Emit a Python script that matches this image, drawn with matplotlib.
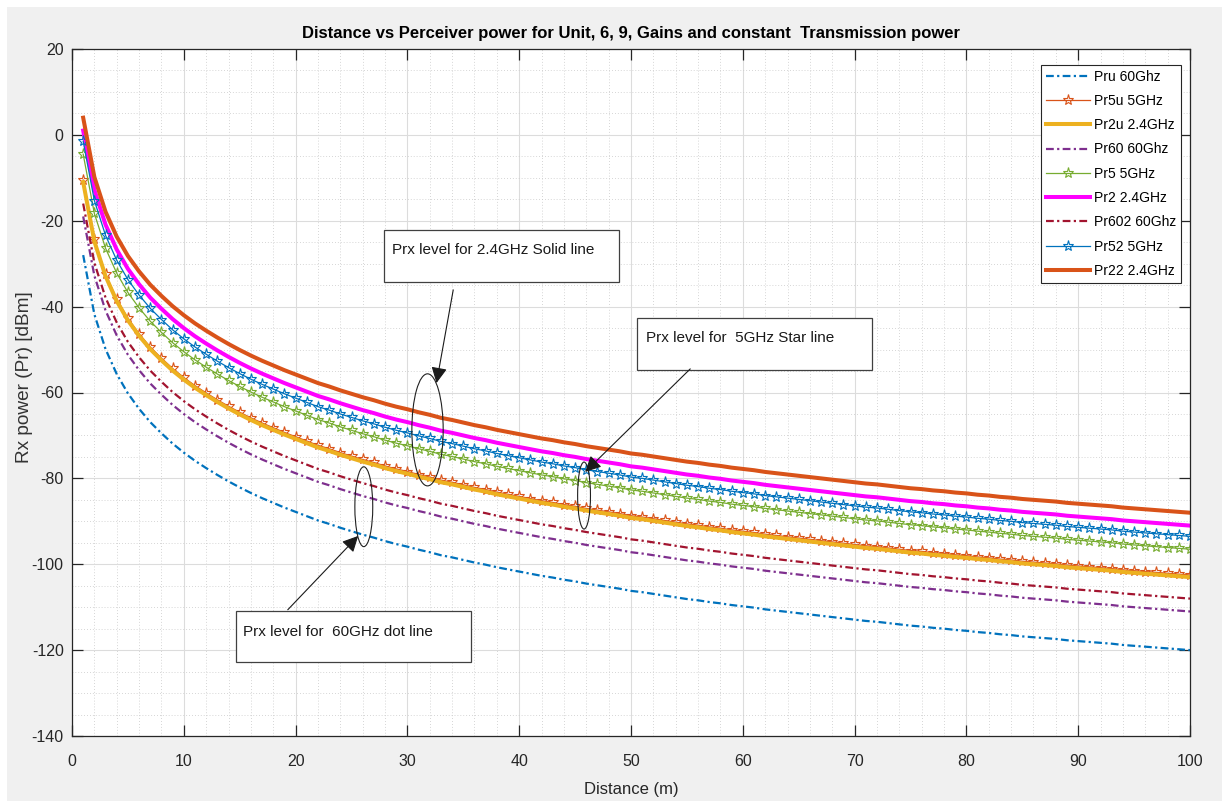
import numpy as np
import matplotlib
matplotlib.use('Agg')
import matplotlib.pyplot as plt
from matplotlib.patches import Ellipse, Rectangle
from matplotlib.ticker import MultipleLocator

plt.rcParams['font.family'] = ['Liberation Sans', 'DejaVu Sans']
plt.rcParams['axes.unicode_minus'] = False

# distance from transmitter (m)
distance = np.arange(1, 101)

# received level drop relative to the 1 m value (dB), one per metre
drop_db = [
    0.0, 13.8, 21.9, 27.7, 32.2, 35.8, 38.9, 41.5, 43.9, 46.0,
    47.9, 49.6, 51.2, 52.7, 54.1, 55.4, 56.6, 57.7, 58.8, 59.8,
    60.8, 61.8, 62.6, 63.5, 64.3, 65.1, 65.8, 66.6, 67.3, 67.9,
    68.6, 69.2, 69.9, 70.4, 71.0, 71.6, 72.1, 72.7, 73.2, 73.7,
    74.2, 74.7, 75.1, 75.6, 76.0, 76.5, 76.9, 77.3, 77.7, 78.2,
    78.5, 78.9, 79.3, 79.7, 80.1, 80.4, 80.8, 81.1, 81.5, 81.8,
    82.1, 82.5, 82.8, 83.1, 83.4, 83.7, 84.0, 84.3, 84.6, 84.9,
    85.2, 85.4, 85.7, 86.0, 86.3, 86.5, 86.8, 87.0, 87.3, 87.5,
    87.8, 88.0, 88.3, 88.5, 88.8, 89.0, 89.2, 89.4, 89.7, 89.9,
    90.1, 90.3, 90.5, 90.8, 91.0, 91.2, 91.4, 91.6, 91.8, 92.0,
]

labels = ['Pru 60Ghz', 'Pr5u 5GHz', 'Pr2u 2.4GHz', 'Pr60 60Ghz', 'Pr5 5GHz',
          'Pr2 2.4GHz', 'Pr602 60Ghz', 'Pr52 5GHz', 'Pr22 2.4GHz']
# received power at 1 m (dBm)
level_1m = [-28.0, -10.5, -11.0, -19.0, -4.5, 1.0, -16.0, -1.5, 4.0]

colors = ['#0072BD', '#D95319', '#EDB120', '#7E2F8E', '#77AC30',
          '#FF00FF', '#A2142F', '#0072BD', '#D95319']
kinds = ['dot', 'star', 'solid', 'dot', 'star', 'solid', 'dot', 'star', 'solid']

drop = np.array(drop_db)

fig = plt.figure(figsize=(12.22, 8.01), dpi=100)
fig.patch.set_facecolor('white')
fig.patches.append(Rectangle((7 / 1222, 0), 1, 1 - 7 / 801, transform=fig.transFigure,
                             facecolor='#F0F0F0', edgecolor='none', zorder=-10))
ax = fig.add_axes([72 / 1222, 1 - 736 / 801, 1118 / 1222, 687 / 801])
ax.set_facecolor('white')

for lvl, lab, clr, kind in zip(level_1m, labels, colors, kinds):
    pr = lvl - drop
    if kind == 'dot':
        ax.plot(distance, pr, color=clr, lw=1.6, ls=(0, (3.5, 1.5, 1, 1.5)), label=lab)
    elif kind == 'star':
        ax.plot(distance, pr, color=clr, lw=0.9, marker='*', markersize=8,
                markerfacecolor='none', markeredgewidth=0.8, label=lab)
    else:
        ax.plot(distance, pr, color=clr, lw=2.9, label=lab)

ax.set_xlim(0, 100)
ax.set_ylim(-140, 20)
ax.xaxis.set_major_locator(MultipleLocator(10))
ax.xaxis.set_minor_locator(MultipleLocator(2))
ax.yaxis.set_major_locator(MultipleLocator(20))
ax.yaxis.set_minor_locator(MultipleLocator(5))
ax.grid(True, which='major', color='#DCDCDC', lw=0.8)
ax.grid(True, which='minor', color='#C8C8C8', lw=0.6, ls=(0, (1, 2.5)))
ax.set_axisbelow(True)
ax.tick_params(which='major', direction='in', length=8, width=0.9, color='#262626',
               top=True, right=True, labelsize=11.5, labelcolor='#262626')
ax.tick_params(axis='x', which='major', pad=13)
ax.tick_params(axis='y', which='major', pad=6)
ax.tick_params(which='minor', length=0, top=True, right=True)
for sp in ax.spines.values():
    sp.set_color('#262626')
    sp.set_linewidth(0.9)

ax.set_title('Distance vs Perceiver power for Unit, 6, 9, Gains and constant  Transmission power',
             fontsize=12, fontweight='bold', pad=8)
ax.set_xlabel('Distance (m)', fontsize=12, color='#262626', labelpad=9)
ax.set_ylabel('Rx power (Pr) [dBm]', fontsize=13.7, color='#333333')
ax.yaxis.set_label_coords(-0.035, 0.523)

leg = ax.legend(loc='upper right', bbox_to_anchor=(0.992, 0.977), borderaxespad=0,
                fontsize=10, fancybox=False, framealpha=1, edgecolor='#262626',
                handlelength=3.2, handletextpad=0.25, labelspacing=0.74, borderpad=0.35)
leg.get_frame().set_linewidth(0.8)

# annotation callouts
ellipses = [(31.8, -68.7, 2.8, 26.1), (45.8, -84.0, 1.15, 15.6), (26.1, -86.6, 1.6, 18.6)]
for ex, ey, ew, eh in ellipses:
    ax.add_patch(Ellipse((ex, ey), ew, eh, fill=False, edgecolor='#202020', lw=0.8, zorder=5))

boxes = [
    (27.9, -34.3, 21.0, 12.1, 28.6, -26.8, 'Prx level for 2.4GHz Solid line'),
    (50.5, -54.8, 21.1, 12.2, 51.3, -47.3, 'Prx level for  5GHz Star line'),
    (14.7, -122.8, 21.0, 11.9, 15.3, -115.8, 'Prx level for  60GHz dot line'),
]
for bx, by, bw, bh, tx, ty, txt in boxes:
    ax.add_patch(Rectangle((bx, by), bw, bh, facecolor='white', edgecolor='#404040',
                           lw=0.9, zorder=6))
    ax.text(tx, ty, txt, fontsize=11, va='center', ha='left', color='#1a1a1a', zorder=7)

arrows = [((34.1, -36.1), (32.6, -57.8)), ((55.3, -54.5), (45.9, -78.5)),
          ((19.3, -110.6), (25.6, -93.4))]
for start, tip in arrows:
    ax.annotate('', xy=tip, xytext=start, zorder=7,
                arrowprops=dict(arrowstyle='-|>', mutation_scale=24, lw=0.8,
                                color='#1a1a1a', shrinkA=0, shrinkB=0))

fig.savefig('out.png', dpi=100, facecolor=fig.get_facecolor())
